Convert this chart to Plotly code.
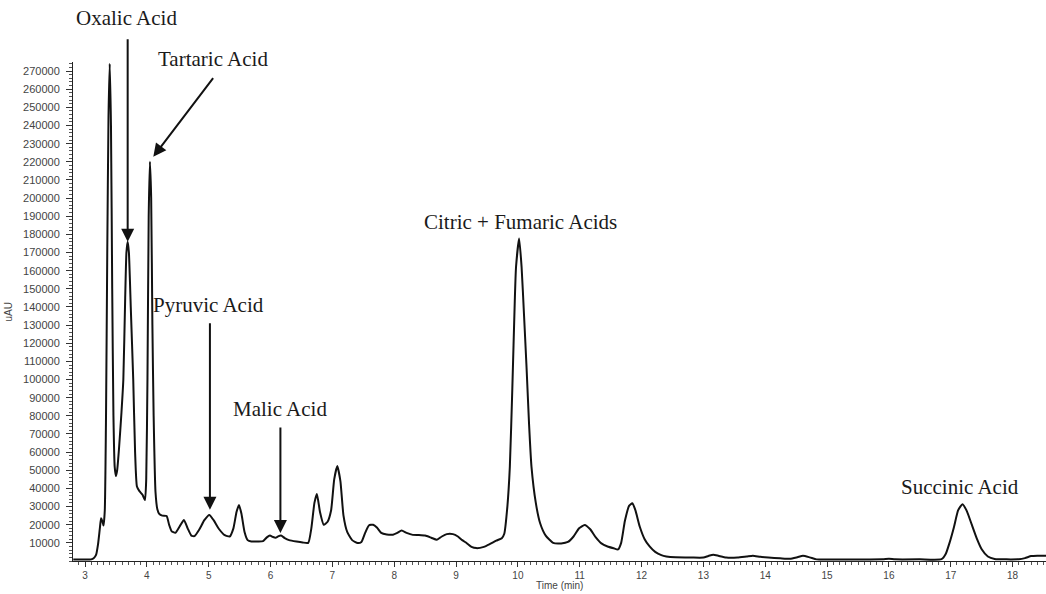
import plotly.graph_objects as go

# Chromatogram trace
time_min = [
    2.81, 3.00, 3.10, 3.14, 3.18, 3.21, 3.24, 3.26, 3.28, 3.30,
    3.32, 3.34, 3.36, 3.38, 3.40, 3.42, 3.44, 3.46, 3.48, 3.50,
    3.52, 3.55, 3.59, 3.62, 3.65, 3.67, 3.69, 3.71, 3.74, 3.78,
    3.81, 3.84, 3.88, 3.93, 3.97, 3.99, 4.01, 4.03, 4.05, 4.07,
    4.09, 4.11, 4.14, 4.17, 4.20, 4.25, 4.32, 4.36, 4.40, 4.46,
    4.53, 4.60, 4.66, 4.72, 4.77, 4.85, 4.93, 5.01, 5.08, 5.17,
    5.26, 5.34, 5.40, 5.45, 5.49, 5.53, 5.58, 5.63, 5.69, 5.80,
    5.88, 5.94, 5.99, 6.04, 6.08, 6.13, 6.17, 6.23, 6.30, 6.42,
    6.52, 6.61, 6.66, 6.71, 6.75, 6.80, 6.86, 6.92, 6.98, 7.03,
    7.08, 7.13, 7.18, 7.24, 7.32, 7.41, 7.47, 7.53, 7.59, 7.66,
    7.72, 7.79, 7.88, 7.98, 8.05, 8.12, 8.20, 8.30, 8.40, 8.50,
    8.60, 8.69, 8.77, 8.85, 8.95, 9.03, 9.10, 9.17, 9.25, 9.33,
    9.45, 9.55, 9.65, 9.74, 9.78, 9.83, 9.87, 9.91, 9.95, 9.97,
    10.02, 10.06, 10.10, 10.14, 10.18, 10.22, 10.29, 10.36, 10.45, 10.57,
    10.70, 10.81, 10.90, 10.99, 11.08, 11.17, 11.26, 11.35, 11.45, 11.55,
    11.62, 11.67, 11.73, 11.80, 11.85, 11.90, 11.97, 12.05, 12.13, 12.22,
    12.32, 12.40, 12.55, 12.80, 13.00, 13.08, 13.16, 13.25, 13.37, 13.55,
    13.70, 13.80, 13.92, 14.05, 14.24, 14.40, 14.52, 14.61, 14.72, 14.83,
    15.00, 15.50, 15.90, 16.00, 16.10, 16.50, 16.85, 16.92, 16.98, 17.05,
    17.12, 17.19, 17.26, 17.34, 17.42, 17.50, 17.60, 17.71, 17.90, 18.10,
    18.20, 18.30, 18.40, 18.54,
]
signal_uau = [
    800, 800, 900, 1500, 3500, 9000, 18000, 23500, 22000, 19500,
    28000, 80000, 170000, 245000, 274000, 240000, 150000, 80000, 52000, 46800,
    50000, 62000, 82000, 100000, 145000, 170000, 176000, 170000, 140000, 100000,
    60000, 41000, 38500, 36500, 33600, 45000, 100000, 190000, 220000, 200000,
    130000, 80000, 38000, 28500, 26000, 25000, 24800, 20000, 16500, 15500,
    19000, 22600, 18000, 14000, 13700, 17500, 22500, 25400, 22500, 17500,
    14200, 13500, 18000, 27000, 30900, 26000, 16000, 11500, 10800, 10800,
    11000, 13000, 14000, 13200, 12800, 13700, 14000, 12600, 11500, 10700,
    10200, 10000, 18000, 32000, 36900, 27000, 20000, 21500, 28000, 45000,
    52300, 44000, 25000, 16000, 11500, 9900, 10500, 15500, 19600, 20000,
    18500, 15500, 14600, 14500, 15500, 16800, 15500, 14400, 14300, 14000,
    12800, 11700, 13500, 14800, 14800, 13500, 11500, 9900, 7800, 7100,
    7800, 9400, 11200, 12600, 15000, 30000, 52000, 95000, 143500, 162000,
    177700, 162000, 135000, 106800, 76000, 51900, 32000, 20800, 14000, 10000,
    9700, 10500, 13500, 18000, 19900, 17500, 13000, 9700, 8000, 7000,
    6400, 10000, 22000, 30500, 31800, 28000, 19000, 12000, 8000, 5000,
    3200, 2500, 2000, 1900, 1900, 2800, 3500, 2800, 1900, 1900,
    2500, 2900, 2300, 1900, 1500, 1200, 2100, 2900, 2000, 900,
    800, 800, 900, 1200, 900, 900, 1000, 4000, 10000, 18500,
    28000, 31300, 27500, 20000, 12500, 6500, 2500, 1100, 900, 1000,
    1600, 2700, 2900, 2900,
]

# Peak labels: name, label x (min), label y (paper fraction), arrow tip (min, uAU), arrow tail offset (px)
peak_names = ["Oxalic Acid", "Tartaric Acid", "Pyruvic Acid", "Malic Acid",
              "Citric + Fumaric Acids", "Succinic Acid"]
label_x = [3.671, 5.066, 4.99, 6.153, 10.046, 17.147]
label_y = [1.088, 1.006, 0.514, 0.305, 0.680, 0.149]
arrow_tip_x = [3.69, 4.104, 5.02, 6.16, None, None]
arrow_tip_y = [176000, 222800, 28300, 15400, None, None]
arrow_dx = [0, 61, 0, 0, None, None]
arrow_dy = [-204, -80, -188, -107, None, None]

y_ticks = list(range(10000, 270001, 10000))

fig = go.Figure()
fig.add_trace(go.Scatter(
    x=time_min, y=signal_uau, mode="lines",
    line=dict(color="#111111", width=2, shape="spline", smoothing=0.5),
    hoverinfo="skip", showlegend=False,
))

annotations = []
for name, lx, ly in zip(peak_names, label_x, label_y):
    annotations.append(dict(
        text=name, x=lx, y=ly, xref="x", yref="paper",
        xanchor="center", yanchor="middle", showarrow=False,
        font=dict(family="Liberation Serif, Times New Roman, serif", size=21, color="#1a1a1a"),
    ))
for tx, ty, dx, dy in zip(arrow_tip_x, arrow_tip_y, arrow_dx, arrow_dy):
    if tx is None:
        continue
    annotations.append(dict(
        text="", x=tx, y=ty, xref="x", yref="y", ax=dx, ay=dy,
        axref="pixel", ayref="pixel", showarrow=True,
        arrowhead=2, arrowsize=1.3, arrowwidth=2, arrowcolor="#111111",
    ))
annotations.append(dict(
    text="Time (min)", x=0.5, y=0, xref="paper", yref="paper",
    yshift=-24, xanchor="center", yanchor="middle", showarrow=False,
    font=dict(family="Liberation Sans, Arial, sans-serif", size=10, color="#444444"),
))
annotations.append(dict(
    text="uAU", x=0, y=0.498, xref="paper", yref="paper", xshift=-65,
    xanchor="center", yanchor="middle", textangle=-90, showarrow=False,
    font=dict(family="Liberation Sans, Arial, sans-serif", size=10, color="#444444"),
))

fig.update_layout(
    width=1046, height=594,
    margin=dict(l=73, r=0, t=62, b=33),
    paper_bgcolor="white", plot_bgcolor="white",
    annotations=annotations,
    xaxis=dict(
        range=[2.806, 18.54], dtick=1, tick0=0, showgrid=False, zeroline=False,
        showline=True, linecolor="#222222", linewidth=1,
        ticks="outside", ticklen=5, tickcolor="#333333", tickwidth=1,
        tickfont=dict(family="Liberation Sans, Arial, sans-serif", size=10, color="#444444"),
        minor=dict(dtick=0.1, ticks="outside", ticklen=2.5, tickcolor="#555555", showgrid=False),
    ),
    yaxis=dict(
        range=[0, 275000], tickvals=y_ticks, tickformat="d",
        showgrid=False, zeroline=False,
        showline=True, linecolor="#222222", linewidth=1,
        ticks="outside", ticklen=6, tickcolor="#333333", tickwidth=1,
        ticklabelstandoff=4,
        tickfont=dict(family="Liberation Sans, Arial, sans-serif", size=11, color="#444444"),
        minor=dict(dtick=2000, ticks="outside", ticklen=3, tickcolor="#555555", showgrid=False),
    ),
)

fig.write_html("out.html")
